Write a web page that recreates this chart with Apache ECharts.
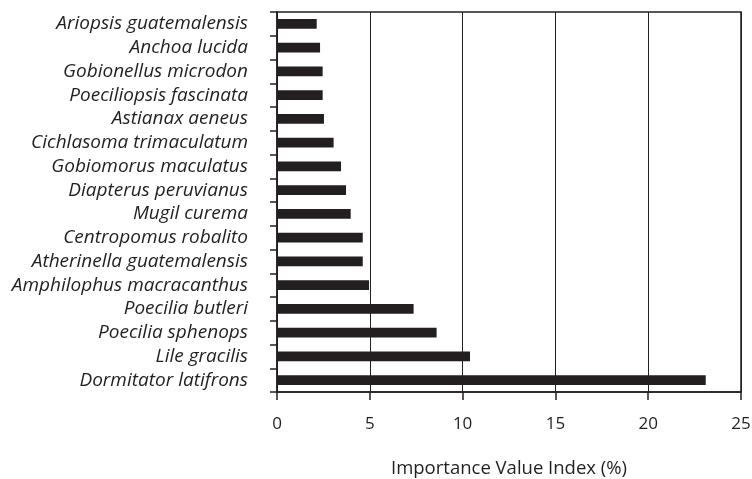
<!DOCTYPE html>
<html>
<head>
<meta charset="utf-8">
<script src="https://cdn.jsdelivr.net/npm/echarts@6/dist/echarts.min.js"></script>
<style>
  html, body { margin: 0; padding: 0; background: #fff; }
  #chart { width: 752px; height: 479px; }
</style>
</head>
<body>
<div id="chart"></div>
<script>
const species = [
  'Ariopsis guatemalensis', 'Anchoa lucida', 'Gobionellus microdon',
  'Poeciliopsis fascinata', 'Astianax aeneus', 'Cichlasoma trimaculatum',
  'Gobiomorus maculatus', 'Diapterus peruvianus', 'Mugil curema',
  'Centropomus robalito', 'Atherinella guatemalensis', 'Amphilophus macracanthus',
  'Poecilia butleri', 'Poecilia sphenops', 'Lile gracilis', 'Dormitator latifrons'
]
const ivi = [2.14, 2.32, 2.46, 2.46, 2.53, 3.05, 3.45, 3.72, 3.97, 4.62, 4.62, 4.96, 7.36, 8.6, 10.4, 23.1]
const xTicks = [0, 5, 10, 15, 20, 25]

const ink = '#231f20'
const font = 'Open Sans'

const chart = echarts.init(document.getElementById('chart'))
chart.setOption({
  animation: false,
  grid: {
    left: 277, right: 11, top: 12, bottom: 87,
    outerBoundsMode: 'none',
    show: true, borderColor: ink, borderWidth: 1.5
  },
  xAxis: {
    type: 'value',
    min: xTicks[0],
    max: xTicks[xTicks.length - 1],
    interval: 5,
    name: 'Importance Value Index (%)',
    nameLocation: 'middle',
    nameGap: 67,
    nameTextStyle: { fontFamily: font, fontSize: 18.5, color: ink },
    axisLine: { show: true, lineStyle: { color: ink, width: 1.5 } },
    axisTick: { show: true, length: 8, lineStyle: { color: ink, width: 1.5 } },
    splitLine: { show: true, lineStyle: { color: ink, width: 1 } },
    axisLabel: { fontFamily: font, fontSize: 17, color: ink, margin: 24 }
  },
  yAxis: {
    type: 'category',
    inverse: true,
    data: species,
    axisLine: { show: true, lineStyle: { color: ink, width: 1.5 } },
    axisTick: { show: true, length: 7, lineStyle: { color: ink, width: 1.5 } },
    axisLabel: { interval: 0, fontFamily: font, fontStyle: 'italic', fontSize: 19, color: ink, margin: 29 }
  },
  series: [{
    type: 'bar',
    data: ivi,
    barWidth: '42%',
    itemStyle: { color: ink }
  }]
})
</script>
</body>
</html>
